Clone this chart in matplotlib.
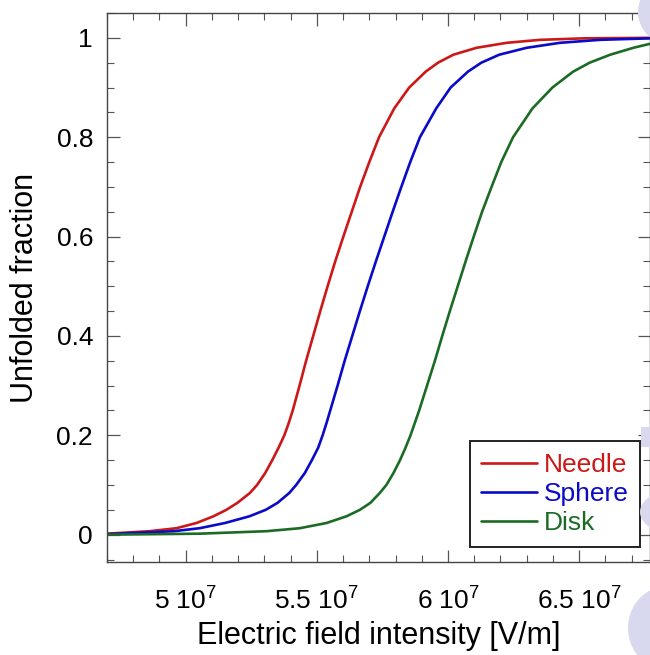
import matplotlib
matplotlib.use("Agg")
import matplotlib.pyplot as plt
from matplotlib.patches import Ellipse, Rectangle
from matplotlib.ticker import FixedLocator, FixedFormatter, MultipleLocator

plt.rcParams["font.family"] = ["Liberation Sans", "DejaVu Sans"]
plt.rcParams["mathtext.fontset"] = "custom"
plt.rcParams["mathtext.rm"] = "Liberation Sans"
plt.rcParams["mathtext.it"] = "Liberation Sans"

# ---------------------------
# Data (field in units of 1e7 V/m)
# ---------------------------
needle_x = [4.70, 4.863, 4.965, 5.041, 5.106, 5.155, 5.197, 5.245, 5.272,
            5.303, 5.330, 5.354, 5.376, 5.393, 5.408, 5.434, 5.459, 5.486,
            5.513, 5.541, 5.570, 5.601, 5.633, 5.665, 5.700, 5.737, 5.795,
            5.852, 5.915, 5.962, 6.020, 6.109, 6.224, 6.351, 6.52, 6.77]
needle_y = [0.002, 0.007, 0.013, 0.0235, 0.037, 0.050, 0.064, 0.084, 0.100,
            0.124, 0.150, 0.175, 0.200, 0.225, 0.250, 0.300, 0.350, 0.400,
            0.450, 0.500, 0.550, 0.600, 0.650, 0.700, 0.750, 0.800, 0.858,
            0.900, 0.932, 0.950, 0.966, 0.980, 0.990, 0.996, 0.999, 1.0]

sphere_x = [4.70, 4.955, 5.053, 5.150, 5.243, 5.305, 5.350, 5.395, 5.421,
            5.454, 5.481, 5.505, 5.522, 5.537, 5.551, 5.579, 5.606, 5.635,
            5.664, 5.694, 5.725, 5.757, 5.789, 5.822, 5.856, 5.893, 5.955,
            6.010, 6.076, 6.127, 6.195, 6.300, 6.427, 6.580, 6.77]
sphere_y = [0.001, 0.007, 0.013, 0.0235, 0.037, 0.050, 0.064, 0.084, 0.100,
            0.124, 0.150, 0.175, 0.200, 0.225, 0.250, 0.300, 0.350, 0.400,
            0.450, 0.500, 0.550, 0.600, 0.650, 0.700, 0.750, 0.800, 0.858,
            0.900, 0.932, 0.950, 0.966, 0.980, 0.990, 0.996, 0.999]

disk_x = [4.70, 5.053, 5.308, 5.435, 5.537, 5.613, 5.664, 5.704, 5.740,
          5.765, 5.792, 5.817, 5.838, 5.857, 5.890, 5.920, 5.950, 5.978,
          6.007, 6.037, 6.067, 6.098, 6.130, 6.166, 6.203, 6.248, 6.322,
          6.398, 6.477, 6.540, 6.618, 6.707, 6.77]
disk_y = [0.0, 0.002, 0.007, 0.013, 0.0235, 0.037, 0.050, 0.064, 0.084,
          0.100, 0.124, 0.150, 0.175, 0.200, 0.250, 0.300, 0.350, 0.400,
          0.450, 0.500, 0.550, 0.600, 0.650, 0.700, 0.750, 0.800, 0.858,
          0.900, 0.932, 0.950, 0.966, 0.980, 0.988]

series_names = ["Needle", "Sphere", "Disk"]
series_colors = ["#cc1818", "#0a0ac8", "#1c6b24"]

x_ticks = [5.0, 5.5, 6.0, 6.5]
x_tick_labels = [r"5 10$^7$", r"5.5 10$^7$", r"6 10$^7$", r"6.5 10$^7$"]
y_ticks = [0, 0.2, 0.4, 0.6, 0.8, 1.0]
y_tick_labels = ["0", "0.2", "0.4", "0.6", "0.8", "1"]

# ---------------------------
# Plot
# ---------------------------
W, H = 650, 655
fig = plt.figure(figsize=(W / 100, H / 100), dpi=100)

# faint slide decorations peeking in at the right edge
lav = "#d8d8ee"
deco = [
    Ellipse((670 / W, 1 - 12 / H), 64 / W, 64 / H),
    Rectangle((641 / W, 1 - 447 / H), 12 / W, 20 / H),
    Ellipse((668 / W, 1 - 512 / H), 56 / W, 40 / H),
    Ellipse((668 / W, 1 - 628 / H), 80 / W, 84 / H),
]
for p in deco:
    p.set_transform(fig.transFigure)
    p.set_facecolor(lav)
    p.set_edgecolor("none")
    p.set_zorder(0)
    fig.patches.append(p)

ax = fig.add_axes([107 / W, 1 - 562 / H, 543 / W, 549 / H])
ax.set_facecolor("none")

xs = [needle_x, sphere_x, disk_x]
ys = [needle_y, sphere_y, disk_y]
for x, y, name, c in zip(xs, ys, series_names, series_colors):
    ax.plot(x, y, color=c, lw=1.9, label=name,
            solid_capstyle="round", solid_joinstyle="round")

ax.set_xlim(4.70, 6.77)
ax.set_ylim(-0.055, 1.05)

ax.xaxis.set_major_locator(FixedLocator(x_ticks))
ax.xaxis.set_major_formatter(FixedFormatter(x_tick_labels))
ax.xaxis.set_minor_locator(MultipleLocator(0.1))
ax.yaxis.set_major_locator(FixedLocator(y_ticks))
ax.yaxis.set_major_formatter(FixedFormatter(y_tick_labels))
ax.yaxis.set_minor_locator(MultipleLocator(0.05))

ax.tick_params(which="both", direction="in", top=True, right=True,
               color="#555555", labelsize=19)
ax.tick_params(which="major", length=9, width=0.9)
ax.tick_params(which="minor", length=5, width=0.8)
ax.tick_params(axis="x", pad=18)
ax.tick_params(axis="y", pad=10)

for s in ax.spines.values():
    s.set_color("#444444")
    s.set_linewidth(1.0)

ax.set_xlabel("Electric field intensity [V/m]", fontsize=22, labelpad=5)
ax.set_ylabel("Unfolded fraction", fontsize=22, labelpad=12)

leg = ax.legend(loc="lower right", bbox_to_anchor=(0.982, 0.027),
                borderaxespad=0, fontsize=19, handlelength=2.1,
                handletextpad=0.25, labelspacing=0.2, borderpad=0.45,
                fancybox=False, framealpha=1, edgecolor="#222222")
leg.get_frame().set_linewidth(1.4)
for txt, c in zip(leg.get_texts(), series_colors):
    txt.set_color(c)

fig.savefig("out.png", dpi=100)
